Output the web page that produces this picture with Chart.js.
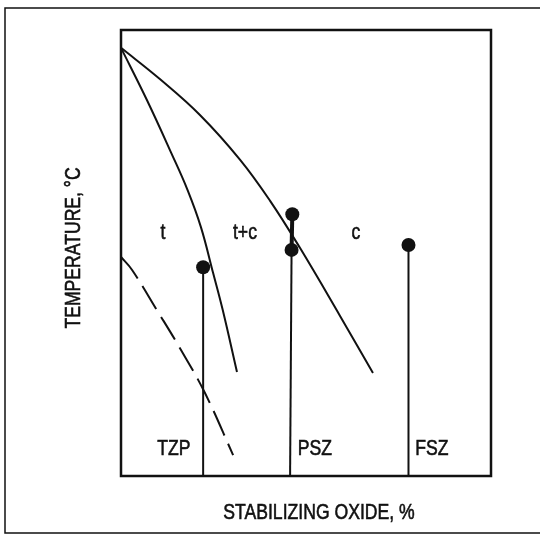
<!DOCTYPE html>
<html>
<head>
<meta charset="utf-8">
<script src="https://cdn.jsdelivr.net/npm/chart.js@4"></script>
<style>
  html, body { margin: 0; padding: 0; background: #fff; }
  #wrap { width: 540px; height: 536px; }
</style>
</head>
<body>
<div id="wrap"><canvas id="phaseChart" width="540" height="536"></canvas></div>
<script>
// phase boundaries, x = stabilizing oxide (0-100), y = temperature (0-100)
const tBoundaryX = [0, 7.0, 13.6, 18.0, 21.6, 24.9, 27.5, 31.35]
const tBoundaryY = [96, 84.3, 72.4, 64.1, 55.8, 45.5, 37.2, 23.3]
const cBoundaryX = [0, 10.5, 21.4, 32.2, 40.3, 48.4, 59.2, 68.1]
const cBoundaryY = [96, 89.0, 80.9, 70.9, 61.7, 51.1, 35.9, 23.1]
const mBoundaryX = [0, 3.0, 9.7, 15.9, 22.7, 30.3]
const mBoundaryY = [49.1, 46.2, 37.2, 28.7, 18.6, 4.7]

// material compositions and firing temperatures
const materials = ['TZP', 'PSZ', 'FSZ']
const materialX = [22.2, 45.7, 77.7]
const materialY = [46.8, 50.7, 51.8]
const pszUpperX = 46.3
const pszUpperY = 58.7

// phase field labels
const regionLabels = ['t', 't+c', 'c']
const regionLabelX = [11.35, 33.5, 63.5]

const xTitle = 'STABILIZING OXIDE, %'
const yTitle = 'TEMPERATURE, °C'

const ink = '#111'
const font = '22px "Liberation Sans", Arial, sans-serif'

function pts(xs, ys) {
  return xs.map((x, i) => ({ x: x, y: ys[i] }))
}

const curve = { borderColor: ink, borderWidth: 2, tension: 0.4, pointRadius: 0 }

const datasets = [
  Object.assign({ data: pts(tBoundaryX, tBoundaryY) }, curve),
  Object.assign({ data: pts(cBoundaryX, cBoundaryY) }, curve),
  Object.assign({ data: pts(mBoundaryX, mBoundaryY), borderDash: [27, 9] }, curve)
]

// vertical composition lines with a dot on top
materials.forEach((m, i) => {
  datasets.push({
    data: [{ x: materialX[i], y: 0 }, { x: materialX[i] + (i === 1 ? 0.4 : 0), y: materialY[i] }],
    borderColor: ink, borderWidth: 2, tension: 0,
    pointRadius: [0, 7], pointBackgroundColor: ink, pointBorderWidth: 0
  })
})
// PSZ has a second dot joined by a heavy bar
datasets.push({
  data: [{ x: materialX[1] + 0.4, y: materialY[1] }, { x: pszUpperX, y: pszUpperY }],
  borderColor: ink, borderWidth: 4, tension: 0,
  pointRadius: [0, 7], pointBackgroundColor: ink, pointBorderWidth: 0
})

// condensed-looking text, slightly heavy like the printed original
function narrowText(ctx, text, x, y) {
  ctx.save()
  ctx.translate(x, y)
  ctx.scale(0.8, 1)
  ctx.fillText(text, 0, 0)
  ctx.strokeText(text, 0, 0)
  ctx.restore()
}

const framePlugin = {
  id: 'frame',
  afterDraw(chart) {
    const { ctx, chartArea: a, scales } = chart
    ctx.save()
    ctx.strokeStyle = ink
    ctx.lineWidth = 2.5
    ctx.strokeRect(a.left, a.top, a.right - a.left, a.bottom - a.top)

    // outer figure border (open on the right)
    ctx.lineWidth = 1.5
    ctx.beginPath()
    ctx.moveTo(540, 8)
    ctx.lineTo(5, 8)
    ctx.lineTo(5, 533)
    ctx.lineTo(540, 533)
    ctx.stroke()

    ctx.fillStyle = ink
    ctx.lineWidth = 0.6
    ctx.font = font
    ctx.textAlign = 'center'
    ctx.textBaseline = 'alphabetic'
    const yLab = scales.y.getPixelForValue(53.1)
    regionLabels.forEach((t, i) => {
      narrowText(ctx, t, scales.x.getPixelForValue(regionLabelX[i]), yLab)
    })
    const yMat = scales.y.getPixelForValue(4.7)
    const matOffset = [-7.9, 6.7, 6.35]
    materials.forEach((m, i) => {
      narrowText(ctx, m, scales.x.getPixelForValue(materialX[i] + matOffset[i]), yMat)
    })

    narrowText(ctx, xTitle, 319, 519)
    ctx.translate(80, 248)
    ctx.rotate(-Math.PI / 2)
    narrowText(ctx, yTitle, 0, 0)
    ctx.restore()
  }
}

const chart = new Chart(document.getElementById('phaseChart'), {
  type: 'line',
  data: { datasets: datasets },
  options: {
    responsive: false,
    animation: false,
    layout: { padding: { left: 121, right: 49, top: 30, bottom: 60 } },
    plugins: { legend: { display: false }, tooltip: { enabled: false } },
    scales: {
      x: { type: 'linear', min: 0, max: 100, display: false },
      y: { type: 'linear', min: 0, max: 100, display: false }
    }
  },
  plugins: [framePlugin]
})
</script>
</body>
</html>
